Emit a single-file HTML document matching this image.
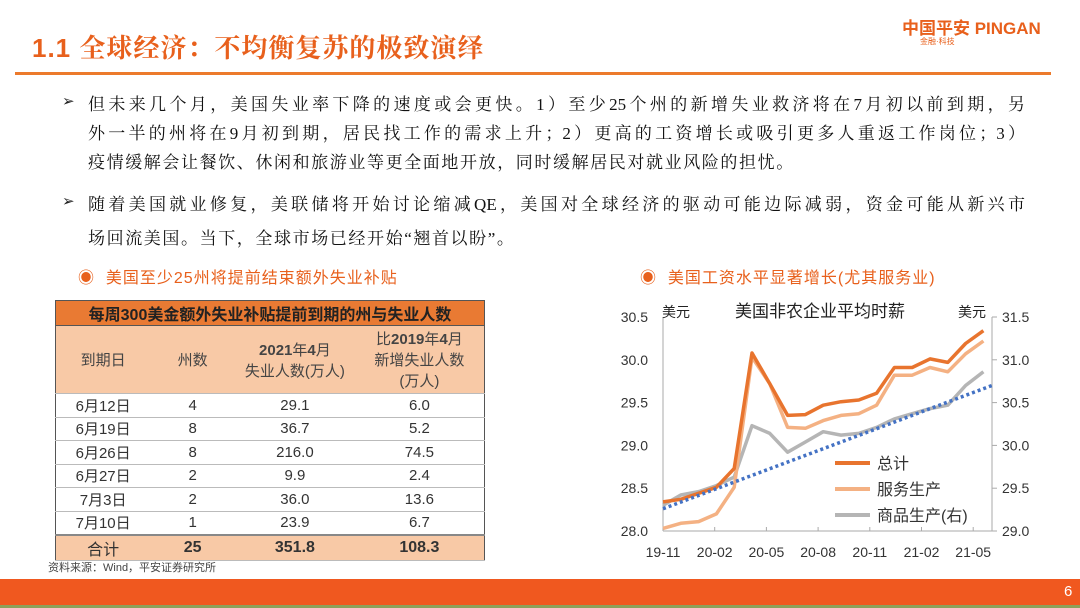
<!DOCTYPE html>
<html><head><meta charset="utf-8">
<style>
body{margin:0;width:1080px;height:608px;position:relative;background:#fff;overflow:hidden;font-family:"Liberation Sans","Noto Sans CJK SC",sans-serif;}
.abs{position:absolute;}
.ln{position:absolute;left:88px;width:937px;font-size:17px;color:#111;text-align:justify;text-align-last:justify;white-space:nowrap;font-family:"Liberation Serif","Noto Serif CJK SC",serif;}
.ln.last{text-align-last:left;}
.bul{position:absolute;left:62px;font-size:15px;color:#222;}
table{border-collapse:collapse;font-size:15px;color:#333;}
td{border-bottom:1px solid #bbb;text-align:center;padding:0;}
</style></head><body>
<div class="abs" style="left:32px;top:28px;font-size:26px;color:#e8601c;font-weight:bold;font-family:'Liberation Sans','Noto Serif CJK SC',serif;letter-spacing:1px;">1.1 全球经济：不均衡复苏的极致演绎</div>
<div class="abs" style="left:902px;top:14px;font-size:17px;color:#e8601c;font-weight:bold;">中国平安 PINGAN</div>
<div class="abs" style="left:920px;top:36px;font-size:8px;color:#e8601c;">金融·科技</div>
<div class="abs" style="left:15px;top:72px;width:1036px;height:3px;background:#ec7a2c;"></div>

<div class="bul" style="top:92px;">➢</div>
<div class="ln" style="top:90px;">但未来几个月，美国失业率下降的速度或会更快。1）至少25个州的新增失业救济将在7月初以前到期，另</div>
<div class="ln" style="top:119px;">外一半的州将在9月初到期，居民找工作的需求上升；2）更高的工资增长或吸引更多人重返工作岗位；3）</div>
<div class="ln last" style="top:148px;letter-spacing:1.6px;">疫情缓解会让餐饮、休闲和旅游业等更全面地开放，同时缓解居民对就业风险的担忧。</div>
<div class="bul" style="top:192px;">➢</div>
<div class="ln" style="top:190px;">随着美国就业修复，美联储将开始讨论缩减QE，美国对全球经济的驱动可能边际减弱，资金可能从新兴市</div>
<div class="ln last" style="top:224px;letter-spacing:1.6px;">场回流美国。当下，全球市场已经开始“翘首以盼”。</div>

<div class="abs" style="left:78px;top:264px;font-size:16px;color:#e8601c;letter-spacing:1px;">◉&nbsp; 美国至少25州将提前结束额外失业补贴</div>
<div class="abs" style="left:640px;top:264px;font-size:16px;color:#e8601c;letter-spacing:1px;">◉&nbsp; 美国工资水平显著增长(尤其服务业)</div>

<table class="abs" style="left:55px;top:300px;width:430px;border:1px solid #555;">
<colgroup><col style="width:95px"><col style="width:85px"><col style="width:120px"><col style="width:130px"></colgroup>
<tr style="height:25px;background:#e97a33;"><td colspan="4" style="font-weight:bold;font-size:16px;color:#222;border-bottom:1px solid #555;">每周300美金额外失业补贴提前到期的州与失业人数</td></tr>
<tr style="height:68px;background:#f8c9a6;font-size:15px;color:#444;"><td>到期日</td><td>州数</td><td><b>2021</b>年<b>4</b>月<br>失业人数(万人)</td><td>比<b>2019</b>年<b>4</b>月<br>新增失业人数<br>(万人)</td></tr>
<tr style="height:23.5px"><td>6月12日</td><td>4</td><td>29.1</td><td>6.0</td></tr>
<tr style="height:23.5px"><td>6月19日</td><td>8</td><td>36.7</td><td>5.2</td></tr>
<tr style="height:23.5px"><td>6月26日</td><td>8</td><td>216.0</td><td>74.5</td></tr>
<tr style="height:23.5px"><td>6月27日</td><td>2</td><td>9.9</td><td>2.4</td></tr>
<tr style="height:23.5px"><td>7月3日</td><td>2</td><td>36.0</td><td>13.6</td></tr>
<tr style="height:23.5px"><td style="border-bottom:2px solid #888">7月10日</td><td style="border-bottom:2px solid #888">1</td><td style="border-bottom:2px solid #888">23.9</td><td style="border-bottom:2px solid #888">6.7</td></tr>
<tr style="height:23px;background:#f8c9a6;font-size:16px;"><td>合计</td><td><b>25</b></td><td><b>351.8</b></td><td><b>108.3</b></td></tr>
</table>
<div class="abs" style="left:48px;top:559px;font-size:11px;color:#444;">资料来源：Wind，平安证券研究所</div>

<svg class="abs" style="left:0;top:0" width="1080" height="608" id="chart"></svg>

<div class="abs" style="left:0;top:579px;width:1080px;height:26px;background:#f0581f;"></div>
<div class="abs" style="left:0;top:605px;width:1080px;height:3px;background:#8da05a;"></div>
<div class="abs" style="left:1064px;top:583px;font-size:15px;color:#fff;">6</div>

<script>
const categories=["19-11","19-12","20-01","20-02","20-03","20-04","20-05","20-06","20-07","20-08","20-09","20-10","20-11","20-12","21-01","21-02","21-03","21-04","21-05"];
const tickLabels=["19-11","20-02","20-05","20-08","20-11","21-02","21-05"];
const totalValues=[28.34,28.37,28.44,28.51,28.73,30.08,29.72,29.35,29.36,29.47,29.51,29.53,29.61,29.91,29.91,30.01,29.97,30.19,30.34];
const serviceValues=[28.03,28.09,28.11,28.20,28.51,30.03,29.72,29.21,29.20,29.29,29.35,29.37,29.47,29.82,29.82,29.91,29.86,30.07,30.22];
const goodsValues=[29.30,29.42,29.46,29.53,29.63,30.23,30.14,29.92,30.04,30.16,30.12,30.14,30.21,30.31,30.37,30.43,30.47,30.70,30.86];
const trendEnds=[29.26,30.70];
const leftTicks=[28.0,28.5,29.0,29.5,30.0,30.5];
const rightTicks=[29.0,29.5,30.0,30.5,31.0,31.5];

const svg=document.getElementById('chart');
const NS='http://www.w3.org/2000/svg';
const X0=663,X1=992,Y0=531,Y1=317;
const step=17.8;
const xi=i=>X0+i*step;
const yL=v=>Y0-(v-28)/2.5*(Y0-Y1);
const yR=v=>Y0-(v-29)/2.5*(Y0-Y1);
function mk(tag,attrs,parent){const e=document.createElementNS(NS,tag);for(const k in attrs)e.setAttribute(k,attrs[k]);(parent||svg).appendChild(e);return e;}
function txt(s,x,y,attrs){const t=mk('text',Object.assign({x:x,y:y,'font-size':14,fill:'#333','font-family':'Liberation Sans, Noto Sans CJK SC, sans-serif'},attrs||{}));t.textContent=s;return t;}

let a=mk('line',{x1:X0,y1:Y1,x2:X0,y2:Y0,stroke:'#aaa'});


a=mk('line',{x1:X1,y1:Y1,x2:X1,y2:Y0,stroke:'#aaa'});


a=mk('line',{x1:X0,y1:Y0,x2:X1,y2:Y0,stroke:'#aaa'});


leftTicks.forEach(v=>{const t=txt(v.toFixed(1),648,yL(v)+5,{'text-anchor':'end'});

});
rightTicks.forEach(v=>{mk('line',{x1:X1,y1:yR(v),x2:X1+5,y2:yR(v),stroke:'#aaa'});const t=txt(v.toFixed(1),1002,yR(v)+5);

});
tickLabels.forEach((s,k)=>{const x=X0+k*51.7;mk('line',{x1:x,y1:Y0,x2:x,y2:Y0-4,stroke:'#aaa'});const t=txt(s,x,557,{'text-anchor':'middle'});

});

function series(vals,yf,color,w,name){const d=vals.map((v,i)=>(i?'L':'M')+xi(i).toFixed(1)+','+yf(v).toFixed(1)).join(' ');const p=mk('path',{d:d,fill:'none',stroke:color,'stroke-width':w,'stroke-linejoin':'round'});

}
series(goodsValues,yR,'#b5b5b5',3.5,'goods-line');
series(serviceValues,yL,'#f4b183',3.5,'service-line');
series(totalValues,yL,'#e8742e',3.5,'total-line');
const tr=mk('line',{x1:xi(0),y1:yR(trendEnds[0]),x2:X1,y2:yR(trendEnds[1]),stroke:'#4472c4','stroke-width':3.5,'stroke-dasharray':'3 3'});



let t=txt('美国非农企业平均时薪',735,317,{'font-size':17,fill:'#222'});


t=txt('美元',662,317,{'font-size':14,fill:'#222'});


t=txt('美元',958,317,{'font-size':14,fill:'#222'});


[['总计','#e8742e'],['服务生产','#f4b183'],['商品生产(右)','#b5b5b5']].forEach((e,k)=>{const y=463+k*26;mk('line',{x1:835,y1:y,x2:870,y2:y,stroke:e[1],'stroke-width':4});const l=txt(e[0],877,y+6,{'font-size':16,fill:'#333'});

});
</script>
</body></html>
